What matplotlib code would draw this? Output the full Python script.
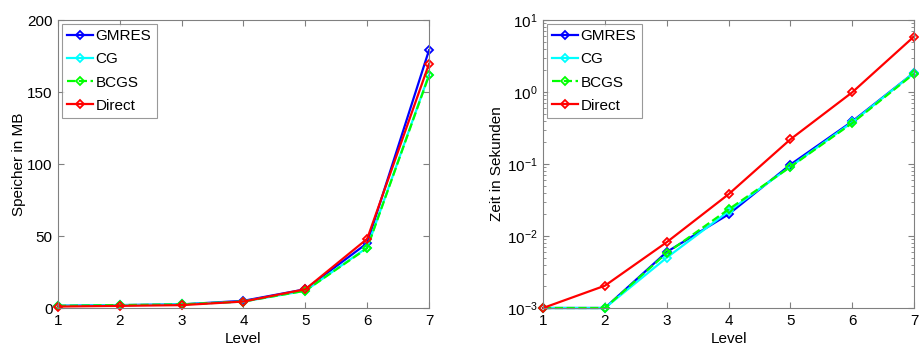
import numpy as np
import matplotlib.pyplot as plt
from matplotlib.ticker import FixedLocator, FuncFormatter, LogLocator

plt.rcParams['font.family'] = ['Liberation Sans', 'DejaVu Sans']
plt.rcParams['mathtext.fontset'] = 'custom'
plt.rcParams['mathtext.rm'] = 'Liberation Sans'

level = [1, 2, 3, 4, 5, 6, 7]
names = ['GMRES', 'CG', 'BCGS', 'Direct']

# Speicherbedarf in MB
mem_gmres = [1.5, 2.0, 2.5, 5.0, 13.0, 45.0, 179.0]
mem_cg = [1.5, 2.0, 2.5, 4.5, 12.0, 42.0, 162.0]
mem_bcgs = [1.5, 2.0, 2.5, 4.5, 12.0, 41.5, 161.5]
mem_direct = [1.0, 1.5, 2.0, 4.5, 13.0, 48.0, 169.5]

# Laufzeit in Sekunden
t_gmres = [1e-3, 1e-3, 6.0e-3, 0.020, 0.098, 0.39, 1.85]
t_cg = [1e-3, 1e-3, 5.0e-3, 0.022, 0.092, 0.38, 1.85]
t_bcgs = [1e-3, 1e-3, 5.8e-3, 0.0234, 0.091, 0.37, 1.80]
t_direct = [1e-3, 2.04e-3, 8.2e-3, 0.038, 0.22, 0.99, 5.9]

styles = [dict(color='#0000ff', ls='-'),
          dict(color='#00ffff', ls='-'),
          dict(color='#00ff00', ls='--'),
          dict(color='#ff0000', ls='-')]

fig = plt.figure(figsize=(9.19, 3.51), dpi=100)
ax1 = fig.add_axes([0.0631, 0.1225, 0.4037, 0.8205])
ax2 = fig.add_axes([0.5909, 0.1225, 0.4037, 0.8205])

for y, name, st in zip([mem_gmres, mem_cg, mem_bcgs, mem_direct], names, styles):
    ax1.plot(level, y, marker='D', mfc='none', mew=1.3, ms=4.5, lw=1.6,
             label=name, clip_on=False, **st)
for y, name, st in zip([t_gmres, t_cg, t_bcgs, t_direct], names, styles):
    ax2.plot(level, y, marker='D', mfc='none', mew=1.3, ms=4.5, lw=1.6,
             label=name, clip_on=False, **st)

ax1.set_xlim(1, 7)
ax1.set_ylim(0, 200)
ax1.yaxis.set_major_locator(FixedLocator([0, 50, 100, 150, 200]))
ax1.set_ylabel('Speicher in MB', fontsize=11, labelpad=1)

ax2.set_yscale('log')
ax2.set_xlim(1, 7)
ax2.set_ylim(1e-3, 10)
ax2.yaxis.set_major_locator(LogLocator(base=10, numticks=10))
ax2.yaxis.set_minor_locator(LogLocator(base=10, subs=np.arange(2, 10), numticks=10))
ax2.yaxis.set_major_formatter(FuncFormatter(
    lambda v, p: r'$\mathregular{10^{%d}}$' % int(round(np.log10(v)))))
ax2.set_ylabel('Zeit in Sekunden', fontsize=11, labelpad=2)

for ax in (ax1, ax2):
    ax.xaxis.set_major_locator(FixedLocator(level))
    ax.set_xlabel('Level', fontsize=11, labelpad=3)
    ax.tick_params(which='both', direction='in', top=True, right=True,
                   color='#808080', labelsize=11, pad=4)
    ax.tick_params(which='major', length=4)
    ax.tick_params(which='minor', length=2)
    for s in ax.spines.values():
        s.set_color('#808080')
        s.set_linewidth(0.8)
    leg = ax.legend(loc='upper left', fontsize=11, fancybox=False,
                    borderaxespad=0.25, handlelength=1.7, handletextpad=0.15,
                    labelspacing=0.6, borderpad=0.35, markerscale=0.9)
    leg.get_frame().set_edgecolor('#808080')
    leg.get_frame().set_linewidth(0.8)

fig.savefig('out.png', dpi=100)
